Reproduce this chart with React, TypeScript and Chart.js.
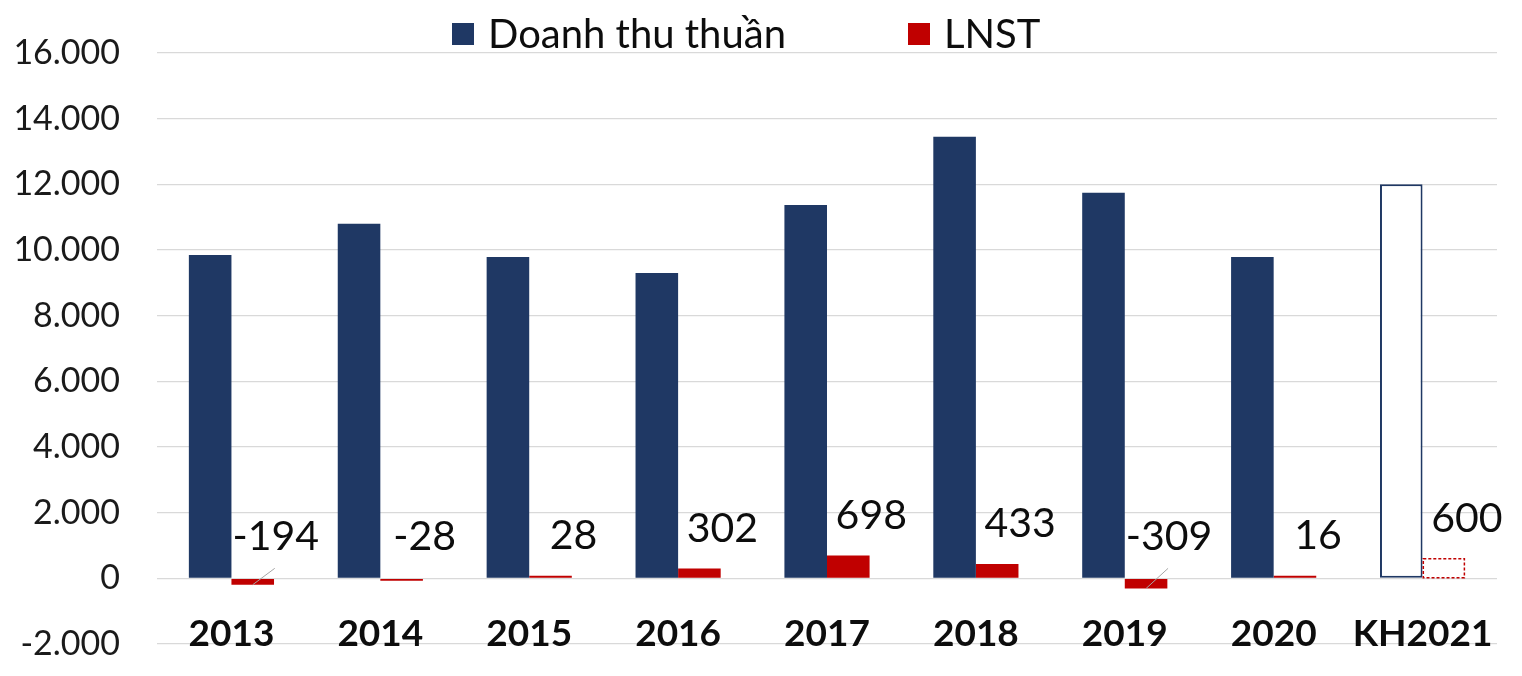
import React, { useEffect, useRef } from "react";
import { Chart, registerables } from "chart.js";

Chart.register(...registerables);

const categories = ["2013", "2014", "2015", "2016", "2017", "2018", "2019", "2020", "KH2021"];
const revenue = [9850, 10800, 9790, 9300, 11370, 13450, 11740, 9790, 12000];
const profit = [-194, -28, 28, 302, 698, 433, -309, 16, 600];
const seriesNames = ["Doanh thu thuần", "LNST"];
const yMin = -2000;
const yMax = 16000;
const yStep = 2000;

const NAVY = "#1F3864";
const RED = "#C00000";
const FONT = "Lato, 'Open Sans', sans-serif";

const fmt = (v: number) => {
  const s = Math.abs(v).toString().replace(/\B(?=(\d{3})+(?!\d))/g, ".");
  return (v < 0 ? "-" : "") + s;
};

const lastIdx = categories.length - 1;

const overlayPlugin = {
  id: "overlay",
  afterDatasetsDraw(chart: any) {
    const ctx = chart.ctx;
    const meta = chart.getDatasetMeta(1);
    const xScale = chart.scales.x;
    const yScale = chart.scales.y;
    const zeroY = yScale.getPixelForValue(0);
    ctx.save();
    // category labels
    ctx.fillStyle = "#0D0D0D";
    ctx.font = `bold 37px ${FONT}`;
    ctx.textAlign = "center";
    ctx.textBaseline = "middle";
    categories.forEach((c, i) => {
      ctx.fillText(c, xScale.getPixelForValue(i), zeroY + 56);
    });
    meta.data.forEach((el: any, i: number) => {
      const v = profit[i];
      const top = Math.min(el.y, el.base);
      const labelY = v < 0 ? zeroY - 42 : top - 40;
      const labelX = el.x + 23;
      if (i === lastIdx) {
        ctx.save();
        ctx.setLineDash([3, 2]);
        ctx.strokeStyle = RED;
        ctx.lineWidth = 1.5;
        ctx.strokeRect(el.x - el.width / 2 + 0.75, el.y, el.width - 1.5, el.base - el.y);
        ctx.restore();
      }
      if (v < -100) {
        ctx.beginPath();
        ctx.strokeStyle = "#A6A6A6";
        ctx.lineWidth = 1;
        ctx.moveTo(el.x, el.y);
        ctx.lineTo(el.x + 22, labelY + 32);
        ctx.stroke();
      }
      ctx.fillStyle = "#0D0D0D";
      ctx.font = `41px ${FONT}`;
      ctx.textAlign = "center";
      ctx.textBaseline = "middle";
      ctx.fillText(String(v), labelX, labelY);
    });
    ctx.restore();
  },
  afterDraw(chart: any) {
    const ctx = chart.ctx;
    ctx.save();
    ctx.font = `40px ${FONT}`;
    ctx.textBaseline = "middle";
    ctx.textAlign = "left";
    const cy = 34;
    const items = [
      { x: 452, color: NAVY, text: seriesNames[0] },
      { x: 908, color: RED, text: seriesNames[1] },
    ];
    items.forEach((it) => {
      ctx.fillStyle = it.color;
      ctx.fillRect(it.x, cy - 11, 22, 22);
      ctx.fillStyle = "#0D0D0D";
      ctx.fillText(it.text, it.x + 36, cy + 1);
    });
    ctx.restore();
  },
};

export default function App() {
  const ref = useRef<HTMLCanvasElement | null>(null);
  useEffect(() => {
    if (!ref.current) return;
    const chart = new Chart(ref.current, {
      type: "bar",
      data: {
        labels: categories,
        datasets: [
          {
            label: seriesNames[0],
            data: revenue,
            backgroundColor: revenue.map((_, i) => (i === lastIdx ? "#FFFFFF" : NAVY)),
            borderColor: NAVY,
            borderWidth: revenue.map((_, i) => (i === lastIdx ? 2 : 0)),
            borderSkipped: false,
            barPercentage: 1,
            categoryPercentage: 0.572,
          },
          {
            label: seriesNames[1],
            data: profit,
            backgroundColor: profit.map((_, i) => (i === lastIdx ? "rgba(0,0,0,0)" : RED)),
            borderWidth: 0,
            minBarLength: 2.5,
            barPercentage: 1,
            categoryPercentage: 0.572,
          },
        ],
      },
      options: {
        responsive: false,
        animation: false,
        layout: { padding: { top: 53, right: 25, left: 0, bottom: 32 } },
        plugins: {
          legend: { display: false },
          tooltip: { enabled: false },
        },
        scales: {
          x: {
            display: false,
          },
          y: {
            min: yMin,
            max: yMax,
            grid: {
              color: "#D9D9D9",
              lineWidth: 1.3,
              drawTicks: true,
              tickLength: 37,
              tickColor: "rgba(0,0,0,0)",
            },
            border: { display: false },
            ticks: {
              stepSize: yStep,
              color: "#1A1A1A",
              font: { family: FONT, size: 34 },
              padding: 0,
              callback: (v: any) => fmt(Number(v)),
            },
            afterFit: (s: any) => {
              s.width = 157;
            },
          },
        },
      },
      plugins: [overlayPlugin],
    });
    return () => chart.destroy();
  }, []);
  return (
    <div style={{ position: "absolute", left: 0, top: 0, width: 1522, height: 676, background: "#fff" }}>
      <canvas ref={ref} width={1522} height={676} style={{ display: "block" }} />
    </div>
  );
}
